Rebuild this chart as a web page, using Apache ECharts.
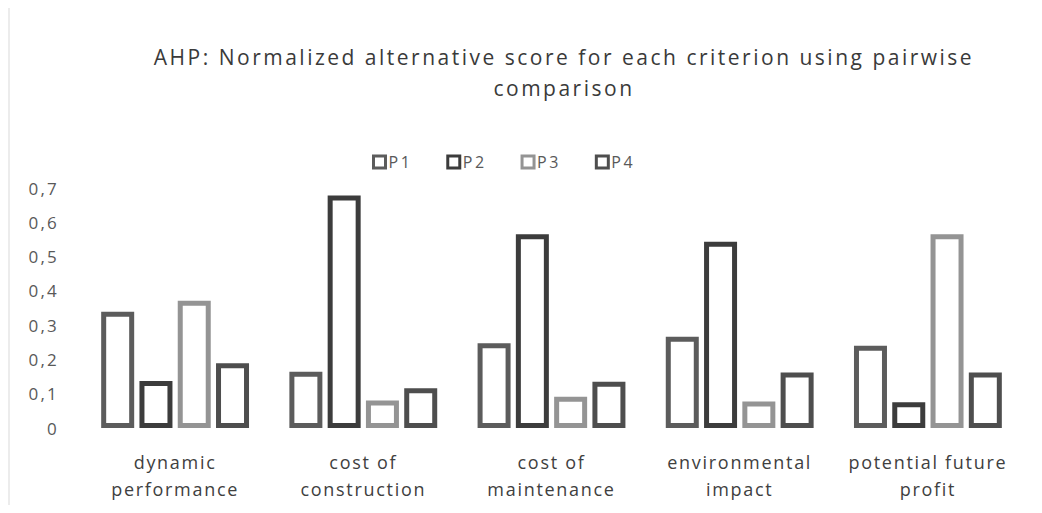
<!DOCTYPE html>
<html>
<head>
<meta charset="utf-8">
<script src="https://cdn.jsdelivr.net/npm/echarts@6/dist/echarts.min.js"></script>
<style>
  html, body { margin: 0; padding: 0; background: #fff; }
  #chart { width: 1042px; height: 513px; }
</style>
</head>
<body>
<div id="chart"></div>
<script>
// Criteria on the x axis
const categories = [
  'dynamic\nperformance',
  'cost of\nconstruction',
  'cost of\nmaintenance',
  'environmental\nimpact',
  'potential future\nprofit'
];

// Normalized alternative scores per criterion
const P1 = [0.339, 0.164, 0.247, 0.266, 0.240];
const P2 = [0.137, 0.678, 0.565, 0.543, 0.075];
const P3 = [0.371, 0.080, 0.091, 0.077, 0.565];
const P4 = [0.189, 0.116, 0.135, 0.162, 0.162];

const seriesNames = ['P1', 'P2', 'P3', 'P4'];
const seriesData = [P1, P2, P3, P4];
const seriesColors = ['#5c5c5c', '#3c3c3c', '#949494', '#4e4e4e'];

const yTicks = [0, 0.1, 0.2, 0.3, 0.4, 0.5, 0.6, 0.7];

const FONT = '"Open Sans", sans-serif';

// Extra tracking per font size (px), applied to the SVG text nodes
const TRACKING = { 21: 2.5, 18: 1.7, 17: 2.2, 16: 2.5 };

const chart = echarts.init(document.getElementById('chart'), null, { renderer: 'svg' });

chart.setOption({
  animation: false,
  backgroundColor: '#ffffff',
  title: {
    text: 'AHP: Normalized alternative score for each criterion using pairwise\ncomparison',
    left: 559,
    textAlign: 'center',
    top: 36,
    textStyle: {
      fontFamily: FONT,
      fontSize: 21,
      fontWeight: 'normal',
      color: '#3a3a3a',
      lineHeight: 31
    }
  },
  legend: {
    data: seriesNames,
    top: 149,
    left: 367,
    itemWidth: 12,
    itemHeight: 12,
    itemGap: 39,
    icon: 'rect',
    itemStyle: { borderWidth: 3 },
    textStyle: {
      fontFamily: FONT,
      fontSize: 16,
      color: '#595959',
      padding: [0, 0, 0, -2]
    }
  },
  grid: { left: 81, right: 20, top: 188, bottom: 85, containLabel: false },
  xAxis: {
    type: 'category',
    data: categories,
    axisLine: { show: false },
    axisTick: { show: false },
    axisLabel: {
      fontFamily: FONT,
      fontSize: 18,
      color: '#404040',
      lineHeight: 27,
      margin: 20
    }
  },
  yAxis: {
    type: 'value',
    min: yTicks[0],
    max: yTicks[yTicks.length - 1],
    interval: 0.1,
    splitLine: { show: false },
    axisLine: { show: false },
    axisTick: { show: false },
    axisLabel: {
      fontFamily: FONT,
      fontSize: 17,
      color: '#595959',
      margin: 22,
      padding: [0, 0, 5, 0],
      formatter: v => (Math.round(v * 10) / 10).toString().replace('.', ',')
    }
  },
  graphic: [
    {
      type: 'rect',
      shape: { x: 8, y: 8, width: 2, height: 497 },
      style: { fill: '#ececec' },
      silent: true
    }
  ],
  series: seriesNames.map((name, i) => ({
    name: name,
    type: 'bar',
    data: seriesData[i],
    barWidth: 33,
    barGap: '16%',
    itemStyle: {
      color: '#ffffff',
      borderColor: seriesColors[i],
      borderWidth: 5
    }
  }))
});

function applyTracking() {
  document.querySelectorAll('#chart text').forEach(t => {
    const fs = Math.round(parseFloat(getComputedStyle(t).fontSize));
    if (TRACKING[fs] != null) t.style.letterSpacing = TRACKING[fs] + 'px';
  });
}
chart.on('finished', applyTracking);
applyTracking();
setTimeout(applyTracking, 50);
</script>
</body>
</html>
